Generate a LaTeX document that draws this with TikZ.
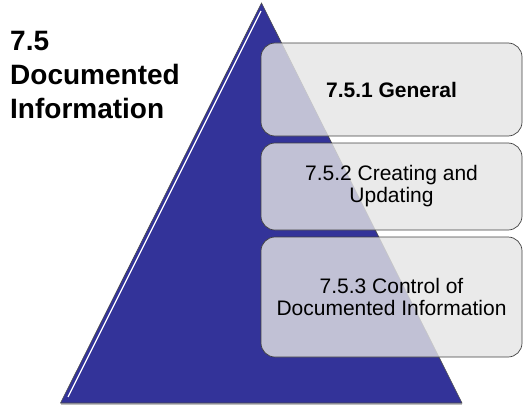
\documentclass[tikz,border=0pt]{standalone}
\usepackage{fontspec}
\setmainfont{Liberation Sans}
\usetikzlibrary{calc}
\begin{document}
\begin{tikzpicture}[x=1pt,y=1pt,
  stepbox/.style={draw=black!75, line width=0.7pt, fill=black!10, fill opacity=0.8, text opacity=1,
    rounded corners=14pt, minimum width=261pt, align=center, inner sep=0pt,
    font=\fontsize{21}{22}\selectfont},
  title/.style={anchor=base west, align=left, inner sep=0pt, font=\fontsize{28}{34}\selectfont\bfseries}]
\useasboundingbox (0,0) rectangle (529,408);
% pyramid
\coordinate (apex) at (261.5,405);
\coordinate (bl) at (60.5,5);
\coordinate (br) at (462,5);
\fill[black!25] (61,3.5) -- (462,3.5) -- (462,5) -- (61,5) -- cycle;
\draw[fill={rgb,255:red,51;green,51;blue,153}, draw=black!70, line width=0.6pt] (apex) -- (br) -- (bl) -- cycle;
\draw[white, line width=1.3pt] ($(apex)!0.02!(bl)+(3.5,0)$) -- ($(apex)!0.985!(bl)+(4.5,0)$);
% boxes
\node[stepbox, minimum height=93pt, font=\fontsize{21}{22}\selectfont\bfseries] (b1) at (391.5,318.5) {7.5.1 General};
\node[stepbox, minimum height=87pt] (b2) at (391.5,221.5) {7.5.2 Creating and\\Updating};
\node[stepbox, minimum height=120pt] (b3) at (391.5,111) {7.5.3 Control of\\Documented Information};
% title
\node[title] (t) at (10,290) {7.5\\Documented\\Information};
\end{tikzpicture}
\end{document}
